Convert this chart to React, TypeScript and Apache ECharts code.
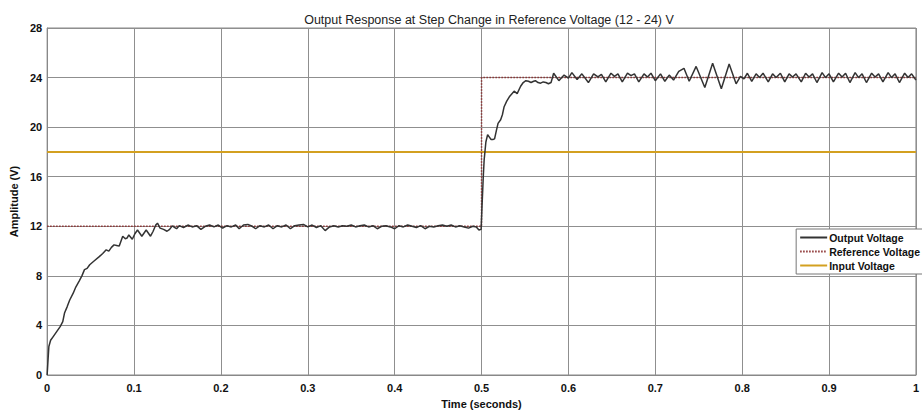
import React, { useEffect, useRef } from "react";
import * as echarts from "echarts";

const titleText = "Output Response at Step Change in Reference Voltage (12 - 24) V";
const xName = "Time (seconds)";
const yName = "Amplitude (V)";
const seriesNames = ["Output Voltage", "Reference Voltage", "Input Voltage"];

// Output voltage: initial rise (t, V)
const outputRise: [number, number][] = [
  [0, 0], [0.001, 1.2], [0.002, 2.3], [0.004, 2.8], [0.007, 3.1], [0.011, 3.5], [0.015, 3.9],
  [0.018, 4.3], [0.02, 5.0], [0.023, 5.5], [0.026, 6.05], [0.03, 6.6], [0.033, 7.1], [0.037, 7.6],
  [0.04, 8.0], [0.043, 8.5], [0.046, 8.6], [0.049, 8.9], [0.054, 9.2], [0.06, 9.55], [0.064, 9.8],
  [0.068, 10.1], [0.071, 10.0], [0.074, 10.3], [0.077, 10.5], [0.08, 10.45], [0.083, 10.4],
  [0.087, 11.2], [0.09, 11.0], [0.092, 11.05], [0.094, 11.3], [0.098, 10.95], [0.101, 11.4],
  [0.104, 11.7], [0.107, 11.4], [0.109, 11.2], [0.112, 11.5], [0.114, 11.7], [0.117, 11.4],
  [0.119, 11.2], [0.122, 11.6], [0.125, 12.1], [0.127, 12.25], [0.13, 11.85], [0.134, 11.75],
  [0.138, 11.6], [0.141, 11.75], [0.144, 12.03], [0.147, 11.9], [0.149, 11.8],
];

// Output voltage: steady state around 12 V
const output12: [number, number][] = [
  [0.152, 12.05], [0.157, 11.9], [0.162, 12.1], [0.167, 11.95], [0.172, 12.05], [0.177, 11.75],
  [0.182, 12.0], [0.187, 12.1], [0.192, 11.95], [0.197, 12.1], [0.202, 11.85], [0.207, 12.05],
  [0.212, 11.95], [0.217, 12.1], [0.221, 11.8], [0.226, 12.1], [0.231, 12.15], [0.236, 12.0],
  [0.24, 11.8], [0.245, 12.05], [0.25, 11.95], [0.255, 12.1], [0.26, 11.8], [0.265, 12.05],
  [0.27, 11.95], [0.275, 12.1], [0.28, 11.8], [0.285, 12.05], [0.29, 12.1], [0.295, 12.15],
  [0.3, 11.95], [0.305, 12.1], [0.31, 11.9], [0.315, 12.05], [0.32, 11.65], [0.325, 11.95],
  [0.33, 12.05], [0.335, 11.95], [0.34, 12.05], [0.345, 12.0], [0.35, 12.1], [0.355, 11.95],
  [0.36, 12.05], [0.365, 12.1], [0.37, 11.95], [0.375, 12.05], [0.38, 11.8], [0.385, 12.0],
  [0.39, 12.05], [0.395, 11.95], [0.4, 11.8], [0.405, 12.05], [0.41, 11.95], [0.415, 12.1],
  [0.42, 12.0], [0.425, 11.9], [0.43, 12.05], [0.435, 11.8], [0.44, 12.0], [0.445, 11.95],
  [0.45, 12.05], [0.455, 12.1], [0.46, 12.0], [0.465, 12.1], [0.47, 11.95], [0.475, 12.05],
  [0.48, 11.95], [0.485, 11.85], [0.49, 12.0], [0.494, 11.95], [0.497, 11.7], [0.4995, 11.75],
];

// Output voltage: transient after the reference step
const outputStep: [number, number][] = [
  [0.5005, 13.5], [0.502, 16.0], [0.503, 17.35], [0.505, 18.8], [0.507, 19.4], [0.509, 19.2],
  [0.511, 19.0], [0.513, 19.0], [0.515, 19.05], [0.517, 19.7], [0.519, 20.3], [0.522, 20.6],
  [0.524, 21.0], [0.526, 21.65], [0.529, 22.1], [0.532, 22.45], [0.535, 22.7], [0.5375, 22.9],
  [0.541, 22.7], [0.545, 23.3], [0.548, 23.6], [0.551, 23.75], [0.554, 23.7], [0.557, 23.6],
  [0.56, 23.7], [0.562, 23.75], [0.565, 23.6], [0.568, 23.55], [0.571, 23.65], [0.574, 23.6],
  [0.577, 23.5], [0.58, 23.6], [0.583, 24.35],
];

// Output voltage: steady state around 24 V
const output24: [number, number][] = [
  [0.589, 23.75], [0.595, 24.2], [0.6, 23.95], [0.604, 24.4], [0.61, 23.85], [0.6155, 24.3],
  [0.623, 23.6], [0.629, 24.3], [0.634, 24.05], [0.638, 24.25], [0.643, 23.65], [0.649, 24.35],
  [0.653, 24.1], [0.657, 24.3], [0.662, 23.65], [0.668, 24.35], [0.672, 24.15], [0.676, 24.3],
  [0.681, 23.65], [0.687, 24.3], [0.691, 24.05], [0.695, 24.35], [0.7, 23.75], [0.706, 24.3],
  [0.711, 23.7], [0.716, 24.2], [0.721, 23.8], [0.727, 24.5], [0.733, 24.75], [0.739, 23.7],
  [0.747, 24.9], [0.757, 23.2], [0.766, 25.15], [0.776, 23.1], [0.785, 25.1], [0.793, 23.5],
  [0.798, 24.1], [0.802, 23.9], [0.806, 24.35], [0.811, 23.7], [0.816, 24.3], [0.82, 24.0],
  [0.824, 24.35], [0.83, 23.65], [0.835, 24.3], [0.839, 24.0], [0.844, 24.35], [0.849, 23.65],
  [0.854, 24.3], [0.858, 24.05], [0.862, 24.3], [0.868, 23.65], [0.873, 24.35], [0.877, 24.05],
  [0.881, 24.3], [0.886, 23.6], [0.892, 24.4], [0.896, 24.0], [0.9, 24.3], [0.905, 23.65],
  [0.911, 24.35], [0.915, 24.05], [0.919, 24.35], [0.924, 23.6], [0.93, 24.4], [0.934, 24.0],
  [0.938, 24.3], [0.943, 23.6], [0.949, 24.35], [0.953, 24.05], [0.957, 24.3], [0.962, 23.65],
  [0.968, 24.4], [0.972, 24.0], [0.976, 24.3], [0.981, 23.6], [0.987, 24.35], [0.991, 24.0],
  [0.995, 24.3], [1.0, 23.8],
];

const referenceVoltage: [number, number][] = [[0, 12], [0.5, 12], [0.5, 24], [1, 24]];
const inputVoltage: [number, number][] = [[0, 18], [1, 18]];

const FONT = '"Liberation Sans", Arial, Helvetica, sans-serif';

export default function App() {
  const ref = useRef<HTMLDivElement>(null);
  useEffect(() => {
    if (!ref.current) return;
    const chart = echarts.init(ref.current, null, { renderer: "svg" });
    const outputData = [...outputRise, ...output12, ...outputStep, ...output24];
    chart.setOption({
      animation: false,
      backgroundColor: "#ffffff",
      textStyle: { fontFamily: FONT },
      title: {
        text: titleText,
        left: 484,
        textAlign: "center",
        top: 8,
        textStyle: { fontSize: 12.5, fontWeight: "normal", color: "#222", fontFamily: FONT },
      },
      grid: {
        left: 47,
        right: 0,
        top: 28,
        bottom: 39,
        show: true,
        borderColor: "#888",
        borderWidth: 1,
        backgroundColor: "#fff",
      },
      legend: {
        data: seriesNames,
        orient: "vertical",
        right: -4,
        top: 229,
        itemWidth: 27,
        itemHeight: 8,
        itemGap: 3,
        padding: [3, 6, 3, 3],
        backgroundColor: "#fff",
        borderColor: "#777",
        borderWidth: 1,
        itemStyle: { opacity: 0 },
        textStyle: { fontSize: 10.5, fontWeight: "bold", color: "#111", fontFamily: FONT, padding: [0, 0, 0, -3] },
      },
      xAxis: {
        type: "value",
        min: 0,
        max: 1,
        interval: 0.1,
        name: xName,
        nameLocation: "middle",
        nameGap: 23,
        nameTextStyle: { fontSize: 11, fontWeight: "bold", color: "#111", fontFamily: FONT },
        axisLine: { show: true, lineStyle: { color: "#888" } },
        axisTick: { show: false },
        axisLabel: {
          margin: 7,
          fontSize: 11,
          fontWeight: "bold",
          color: "#111",
          fontFamily: FONT,
          formatter: (v: number) => String(Math.round(v * 10) / 10),
        },
        splitLine: { show: true, lineStyle: { color: "#8f8f8f", width: 1 } },
      },
      yAxis: {
        type: "value",
        min: 0,
        max: 28,
        interval: 4,
        name: yName,
        nameLocation: "middle",
        nameGap: 26,
        nameTextStyle: { fontSize: 11, fontWeight: "bold", color: "#111", fontFamily: FONT },
        axisLine: { show: true, lineStyle: { color: "#888" } },
        axisTick: { show: false },
        axisLabel: { margin: 5, fontSize: 11, fontWeight: "bold", color: "#111", fontFamily: FONT },
        splitLine: { show: true, lineStyle: { color: "#8f8f8f", width: 1 } },
      },
      series: [
        {
          name: seriesNames[0],
          type: "line",
          data: outputData,
          showSymbol: false,
          symbol: "none",
          z: 4,
          lineStyle: { color: "#333", width: 1.5 },
          itemStyle: { color: "#555" },
        },
        {
          name: seriesNames[1],
          type: "line",
          data: referenceVoltage,
          showSymbol: false,
          symbol: "none",
          z: 3,
          lineStyle: { color: "#8a2f2f", width: 1.5, type: [1.5, 1.5] },
          itemStyle: { color: "#8a2f2f" },
        },
        {
          name: seriesNames[2],
          type: "line",
          data: inputVoltage,
          showSymbol: false,
          symbol: "none",
          z: 2,
          lineStyle: { color: "#d3a020", width: 2 },
          itemStyle: { color: "#d3a020" },
        },
      ],
    });
    return () => chart.dispose();
  }, []);
  return (
    <div
      ref={ref}
      style={{ position: "absolute", left: 0, top: 0, width: 922, height: 414, background: "#fff" }}
    />
  );
}
